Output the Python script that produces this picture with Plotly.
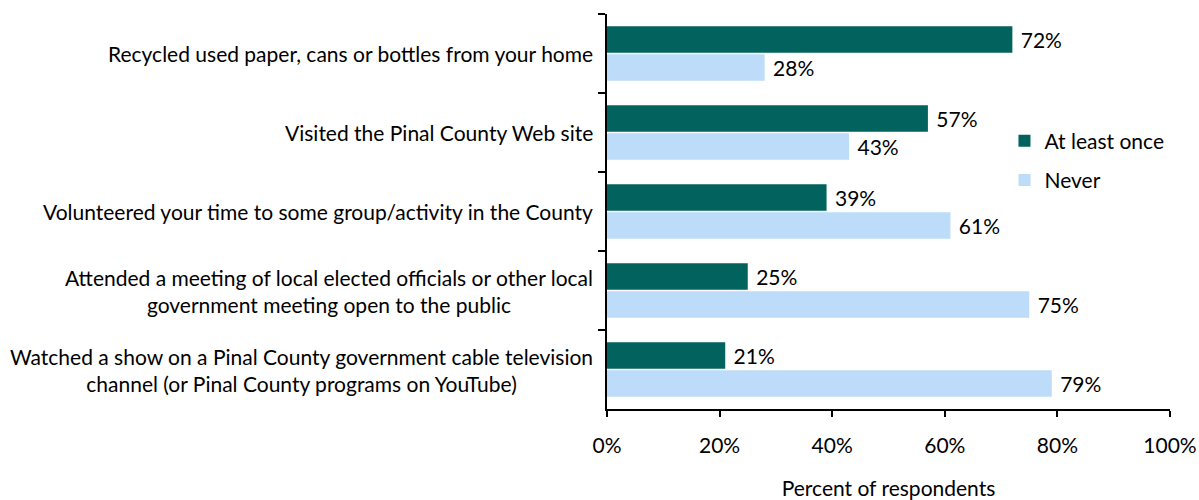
import plotly.graph_objects as go

categories = [
    "Recycled used paper, cans or bottles from your home",
    "Visited the Pinal County Web site",
    "Volunteered your time to some group/activity in the County",
    "Attended a meeting of local elected officials or other local<br>government meeting open to the public",
    "Watched a show on a Pinal County government cable television<br>channel (or Pinal County programs on YouTube)",
]
at_least_once = [72, 57, 39, 25, 21]
never = [28, 43, 61, 75, 79]
x_ticks = [0, 20, 40, 60, 80, 100]
x_tick_labels = ["0%", "20%", "40%", "60%", "80%", "100%"]

FONT = "Lato, Carlito, Calibri, sans-serif"
FS = 21
DARK = "#02635E"
LIGHT = "#BDDCFA"

fig = go.Figure()
# with the reversed category axis the first trace sits on top of each group
fig.add_trace(go.Bar(
    y=categories, x=at_least_once, orientation="h", name="At least once",
    marker=dict(color=DARK, line=dict(width=0)),
    text=[f"{v}%" for v in at_least_once], texttemplate=" %{text}",
    textposition="outside",
    textfont=dict(size=FS, color="black", family=FONT),
    legendgroup="a", cliponaxis=False,
))
fig.add_trace(go.Bar(
    y=categories, x=never, orientation="h", name="Never",
    marker=dict(color=LIGHT, line=dict(width=0)),
    text=[f"{v}%" for v in never], texttemplate=" %{text}",
    textposition="outside",
    textfont=dict(size=FS, color="black", family=FONT),
    legendgroup="b", cliponaxis=False,
))

# category labels as centred multi-line text to the left of the axis
for cat in categories:
    fig.add_annotation(
        x=0, xref="paper", xanchor="right", xshift=-12,
        y=cat, yref="y", yanchor="middle",
        text=cat, showarrow=False, align="center",
        font=dict(size=FS, color="black", family=FONT),
    )

fig.update_layout(
    width=1199, height=500,
    margin=dict(l=607, r=29, t=14, b=91),
    paper_bgcolor="white", plot_bgcolor="white",
    font=dict(family=FONT, size=FS, color="black"),
    barmode="group", bargap=0.29, bargroupgap=0.06,
    showlegend=True,
    legend=dict(
        x=0.706, y=0.73, xanchor="left", yanchor="top",
        traceorder="grouped", tracegroupgap=9,
        font=dict(size=FS, family=FONT), bgcolor="rgba(0,0,0,0)",
    ),
    xaxis=dict(
        range=[0, 100], tickvals=x_ticks, ticktext=x_tick_labels,
        showgrid=False, zeroline=False, automargin=False,
        showline=True, linecolor="black", linewidth=2,
        ticks="outside", ticklen=6, tickwidth=2, tickcolor="black",
        ticklabelstandoff=11,
        tickfont=dict(size=FS, family=FONT),
        title=dict(text="Percent of respondents", standoff=26,
                   font=dict(size=FS, family=FONT)),
    ),
    yaxis=dict(
        categoryorder="array", categoryarray=categories,
        autorange="reversed", showticklabels=False, automargin=False,
        showgrid=False, zeroline=False,
        showline=True, linecolor="black", linewidth=2,
        ticks="outside", ticklen=7, tickwidth=2, tickcolor="black",
        tickson="boundaries",
    ),
)

fig.write_html("out.html")
